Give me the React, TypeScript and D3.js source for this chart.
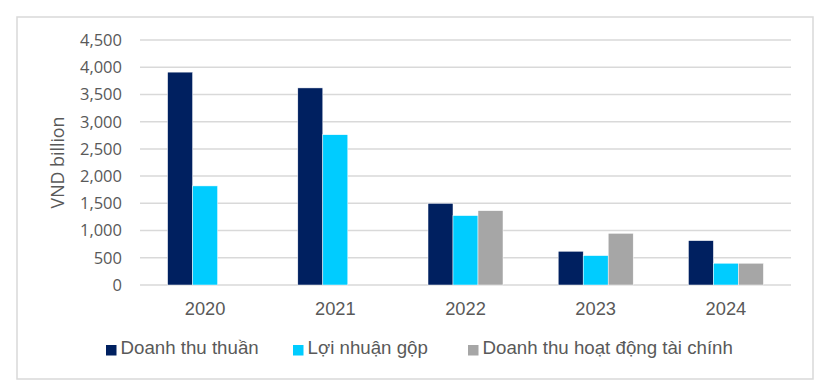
import React from "react";
import * as d3 from "d3";

const years = ["2020", "2021", "2022", "2023", "2024"];
const seriesNames = ["Doanh thu thuần", "Lợi nhuận gộp", "Doanh thu hoạt động tài chính"];
const doanhThuThuan = [3910, 3620, 1500, 620, 815];
const loiNhuanGop = [1820, 2760, 1275, 540, 400];
const doanhThuTaiChinh = [null, null, 1365, 950, 400];
const yTicks = [0, 500, 1000, 1500, 2000, 2500, 3000, 3500, 4000, 4500];
const colors = ["#002060", "#00CCFF", "#A6A6A6"];

const W = 825;
const H = 387;

export default function App() {
  const seriesValues = [doanhThuThuan, loiNhuanGop, doanhThuTaiChinh];
  const x = d3.scaleBand<string>().domain(years).range([140, 791]).paddingInner(0.424).paddingOuter(0.212);
  const xs = d3.scaleBand<number>().domain([0, 1, 2]).range([0, x.bandwidth()]);
  const y = d3.scaleLinear().domain([0, 4500]).range([285, 40]);
  const fmt = d3.format(",");

  const legendX = [106, 293, 468];

  return (
    <svg width={W} height={H} style={{ position: "absolute", left: 0, top: 0, background: "#fff" }}>
      <rect x={17} y={17} width={796} height={362} fill="#fff" stroke="#D9D9D9" strokeWidth={1.5} />
      {yTicks.map((t) => (
        <g key={t}>
          <line x1={140} x2={791} y1={y(t)} y2={y(t)} stroke="#D9D9D9" strokeWidth={1.5} />
          <text
            x={122}
            y={y(t)}
            dy="0.36em"
            textAnchor="end"
            fontFamily="'Open Sans', sans-serif"
            fontSize={16.5}
            fill="#595959"
          >
            {fmt(t)}
          </text>
        </g>
      ))}
      <text
        transform={`translate(64, ${(y(0) + y(4500)) / 2}) rotate(-90)`}
        textAnchor="middle"
        fontFamily="'Open Sans', sans-serif"
        fontSize={17.8}
        fill="#595959"
      >
        VND billion
      </text>
      {years.map((yr, i) => (
        <g key={yr} transform={`translate(${x(yr)}, 0)`}>
          {seriesValues.map((vals, s) => {
            const v = vals[i];
            if (v == null) return null;
            return (
              <rect
                key={s}
                x={xs(s)}
                y={y(v)}
                width={xs.bandwidth()}
                height={y(0) - y(v)}
                fill={colors[s]}
                stroke="#fff"
                strokeWidth={0.5}
              />
            );
          })}
          <text
            x={x.bandwidth() / 2}
            y={315}
            textAnchor="middle"
            fontFamily="'Liberation Sans', Arial, sans-serif"
            fontSize={18.3}
            fill="#595959"
          >
            {yr}
          </text>
        </g>
      ))}
      {seriesNames.map((name, s) => (
        <g key={name} transform={`translate(${legendX[s]}, 0)`}>
          <rect x={0} y={345} width={10.5} height={10.5} fill={colors[s]} />
          <text
            x={14.5}
            y={353.5}
            fontFamily="'Liberation Sans', Arial, sans-serif"
            fontSize={18.7}
            fill="#595959"
          >
            {name}
          </text>
        </g>
      ))}
    </svg>
  );
}
